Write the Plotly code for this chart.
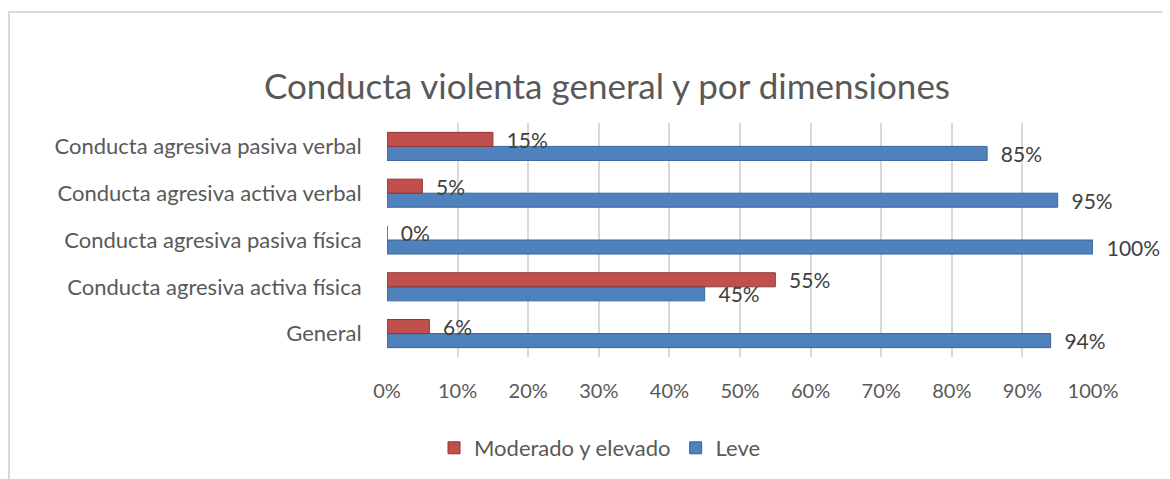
import plotly.graph_objects as go

categories = ["General", "Conducta agresiva activa física", "Conducta agresiva pasiva física",
              "Conducta agresiva activa verbal", "Conducta agresiva pasiva verbal"]
moderado = [6, 55, 0, 5, 15]
leve = [94, 45, 100, 95, 85]
tick_vals = [0, 10, 20, 30, 40, 50, 60, 70, 80, 90, 100]
tick_text = [f"{v}%" for v in tick_vals]

FONT = "Lato"
GRAY = "#595959"
OFF = 8  # page body margin
PAD = "\u00a0\u00a0"

fig = go.Figure()
fig.add_trace(go.Bar(
    y=categories, x=leve, orientation="h", name="Leve",
    marker=dict(color="#4F81BD", line=dict(color="#3A6596", width=1)),
    text=[f"{PAD}{v}%" for v in leve], textposition="outside", cliponaxis=False,
    constraintext="none",
    textfont=dict(family=FONT, size=21, color="#404040"), legendrank=2,
))
fig.add_trace(go.Bar(
    y=categories, x=moderado, orientation="h", name="Moderado y elevado",
    marker=dict(color="#C0504D", line=dict(color="#8E3532", width=1)),
    text=[f"{PAD}{v}%" for v in moderado], textposition="outside", cliponaxis=False,
    constraintext="none",
    textfont=dict(family=FONT, size=21, color="#404040"), legendrank=1,
))

W, H = 1170, 479
L, R, T, B = 387 - OFF, 1093 - OFF, 123 - OFF, 357 - OFF
pw, ph = R - L, B - T

fig.update_layout(
    width=W, height=H,
    margin=dict(l=L, r=W - R, t=T, b=H - B),
    paper_bgcolor="white", plot_bgcolor="white",
    barmode="group", bargap=0.4, bargroupgap=0,
    font=dict(family=FONT, color=GRAY, size=21),
    title=dict(text="Conducta violenta general y por dimensiones",
               font=dict(family=FONT, size=35, color=GRAY),
               xref="paper", x=(607 - OFF - L) / pw, xanchor="center",
               yref="container", y=1 - (87 - OFF) / H, yanchor="middle"),
    xaxis=dict(range=[0, 100], tickvals=tick_vals, ticktext=tick_text,
               showgrid=True, gridcolor="#D9D9D9", gridwidth=2,
               zeroline=False, showline=False,
               ticks="outside", ticklen=16, tickcolor="rgba(0,0,0,0)",
               tickfont=dict(family=FONT, size=20, color=GRAY)),
    yaxis=dict(showgrid=False, zeroline=False, showline=False,
               ticks="outside", ticklen=20, tickcolor="rgba(0,0,0,0)",
               tickfont=dict(family=FONT, size=22, color=GRAY)),
    legend=dict(orientation="h", x=(600 - OFF - L) / pw, xanchor="center",
                y=(B - (448 - OFF)) / ph, yanchor="middle",
                font=dict(family=FONT, size=22, color=GRAY),
                itemwidth=30, traceorder="normal"),
    showlegend=True,
)

fig.add_shape(type="rect", xref="paper", yref="paper",
              x0=(9 - OFF - L) / pw, x1=(1190 - L) / pw,
              y0=(B - 500) / ph, y1=(B - (12 - OFF)) / ph,
              line=dict(color="#D9D9D9", width=2), fillcolor="rgba(0,0,0,0)",
              layer="below")

fig.write_html("out.html")
